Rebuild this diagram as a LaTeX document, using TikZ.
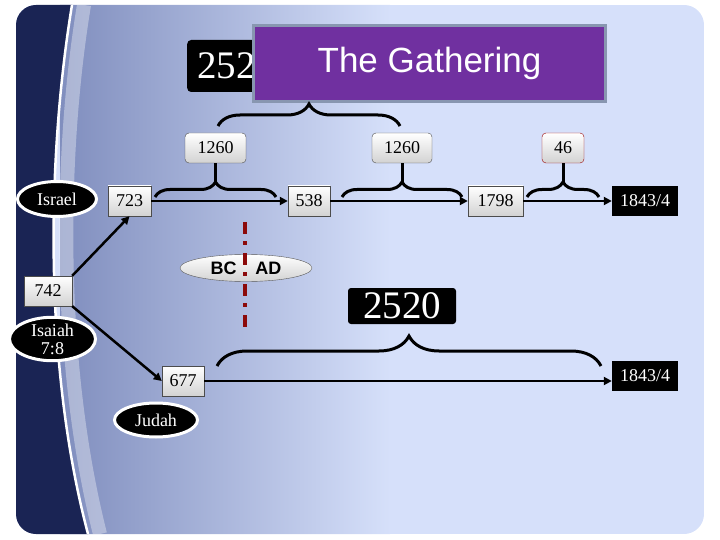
\documentclass[tikz,border=0pt]{standalone}
\usepackage{fontspec}
\setmainfont{Liberation Serif}
\newfontfamily\arialfont{Liberation Sans}
\usetikzlibrary{shapes.geometric,arrows.meta,decorations.pathreplacing}

\definecolor{slidebg}{RGB}{214,224,250}
\definecolor{slidenavy}{RGB}{26,36,84}
\definecolor{slidemid}{RGB}{128,142,190}
\definecolor{gatherpurple}{RGB}{112,48,160}
\definecolor{gatherframe}{RGB}{136,150,176}
\definecolor{eradash}{RGB}{140,10,10}

\begin{document}
\begin{tikzpicture}[x=1pt,y=-1pt,
    yearbox/.style={draw=gray!60!black,top color=white,bottom color=gray!35,
      minimum height=30pt,inner sep=1pt,font=\fontsize{18}{19}\selectfont},
    spanbox/.style={yearbox,rounded corners=4pt},
    endbox/.style={fill=black,text=white,minimum height=30pt,minimum width=66pt,
      inner sep=1pt,font=\fontsize{18}{19}\selectfont},
    tagoval/.style={ellipse,fill=black,draw=white,line width=3pt,text=white,
      inner sep=0pt,align=center,font=\fontsize{18}{21}\selectfont},
    timeline/.style={line width=2.5pt,-{Triangle[length=8pt,width=8pt]}},
    stem/.style={line width=3pt},
    curly/.style={decorate,decoration={brace,amplitude=#1},line width=3pt},
    curly/.default=15]
  \useasboundingbox (0,0) rectangle (720,540);
  % slide background
  \begin{scope}
    \clip[rounded corners=20pt] (16,5) rectangle (704,534);
    \fill[slidebg] (16,5) rectangle (704,534);
    \shade[left color=slidemid,right color=slidebg] (60,5) rectangle (390,534);
    \draw[white,opacity=0.35,line width=14pt] (84,5) .. controls (60,150) and (56,360) .. (100,534);
    \fill[slidenavy] (16,5) -- (72,5) .. controls (48,150) and (42,360) .. (88,534) -- (16,534) -- cycle;
    \draw[white,line width=2.5pt] (72,5) .. controls (48,150) and (42,360) .. (88,534);
  \end{scope}

  % title
  \node[fill=black,text=white,rounded corners=4pt,anchor=west,minimum height=52pt,
    inner xsep=10pt,font=\fontsize{39}{40}\selectfont] (top2520) at (187,66) {2520};
  \node[fill=gatherpurple,draw=gatherframe,line width=3pt,minimum width=352pt,
    minimum height=76pt,text=white,font=\arialfont\fontsize{35}{36}\selectfont]
    (gather) at (429.5,63.5) {The Gathering};

  % braces
  \draw[curly=22] (218,126) -- (400,126);
  \draw[curly] (155,197) -- (276,197);
  \draw[curly] (342,197) -- (462,197);
  \draw[curly] (527,197) -- (599,197);
  \draw[curly=30] (217,366) -- (601,366);
  \coordinate (tipA) at (215.5,182);
  \coordinate (tipB) at (402,182);
  \coordinate (tipC) at (563,182);

  % periods
  \node[spanbox,minimum width=61pt] (p1260a) at (215.5,148) {1260};
  \node[spanbox,minimum width=60pt] (p1260b) at (402,148) {1260};
  \node[spanbox,draw=red!60!black,minimum width=42pt] (p46) at (563,148) {46};
  \node[fill=black,text=white,rounded corners=3pt,minimum width=108pt,minimum height=36pt,
    inner sep=0pt,font=\fontsize{39}{40}\selectfont] (p2520) at (402,306) {2520};
  \draw[stem] (p1260a) -- (tipA);
  \draw[stem] (p1260b) -- (tipB);
  \draw[stem] (p46) -- (tipC);

  % years
  \node[yearbox,minimum width=43pt] (y723) at (129.5,201) {723};
  \node[yearbox,minimum width=42pt] (y538) at (309,201) {538};
  \node[yearbox,minimum width=55pt] (y1798) at (495.5,201) {1798};
  \node[endbox] (y1843a) at (645,201) {1843/4};
  \node[yearbox,minimum width=48pt] (y742) at (48,291) {742};
  \node[yearbox,minimum width=42pt] (y677) at (183,381) {677};
  \node[endbox] (y1843b) at (645,376) {1843/4};

  % tags
  \node[tagoval,minimum width=79pt,minimum height=35pt] (israel) at (57,199) {Israel};
  \node[tagoval,minimum width=86pt,minimum height=41pt] (isaiah) at (52.5,339) {Isaiah\\[-3pt]7:8};
  \node[tagoval,minimum width=83pt,minimum height=34pt] (judah) at (156,420) {Judah};

  % connectors
  \draw[timeline] (y723) -- (y538);
  \draw[timeline] (y538) -- (y1798);
  \draw[timeline] (y1798) -- (y1843a);
  \draw[timeline] (y742.north east) -- (y723.south);
  \draw[timeline] (y742.south east) -- (y677.west);
  \draw[timeline] (y677.east) -- (y677.east -| y1843b.west);

  % era divide
  \node[ellipse,draw=gray!70!black,top color=white,bottom color=gray!35,minimum width=132pt,
    minimum height=27pt,inner sep=0pt,font=\arialfont\bfseries\fontsize{18}{19}\selectfont]
    (bcad) at (246,268) {BC\hspace{19pt}AD};
  \draw[eradash,line width=3.5pt,dash pattern=on 12pt off 7pt on 4pt off 8pt] (245,222) -- (245,332);
\end{tikzpicture}
\end{document}
